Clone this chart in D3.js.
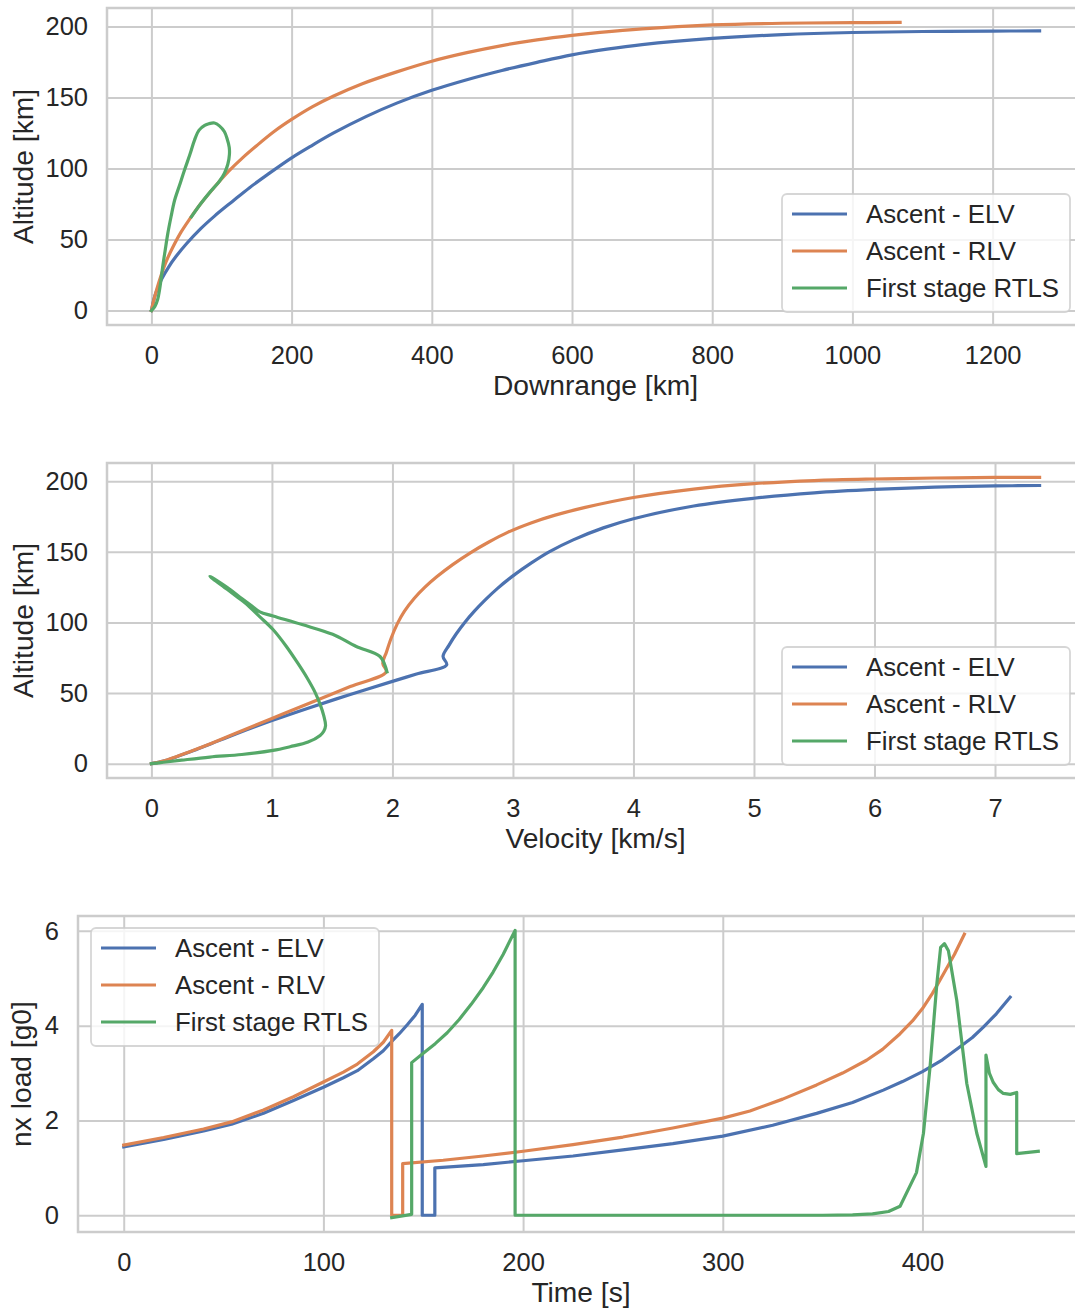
<!DOCTYPE html>
<html>
<head>
<meta charset="utf-8">
<script src="https://cdn.jsdelivr.net/npm/d3@7"></script>
<style>
  body { margin: 0; background: #fff; }
  svg { display: block; font-family: 'Liberation Sans', Arial, sans-serif; }
</style>
</head>
<body>
<script>
// Series names / colors
const seriesNames = ['Ascent - ELV', 'Ascent - RLV', 'First stage RTLS'];
const colors = ['#4C72B0', '#DD8452', '#55A868'];

// Panel 1: downrange [km] vs altitude [km]
const elvDownrange = [0, 5, 10, 15, 25, 35, 50, 70, 90, 116, 140, 165, 200, 230, 260, 306, 350, 400, 450, 500, 550, 600, 650, 700, 800, 900, 1000, 1100, 1200, 1267];
const elvAltitude = [0, 10.5, 17, 22.5, 31, 38, 47, 57.5, 66.5, 77, 86.5, 95.5, 107.5, 116.5, 125, 136.5, 146, 155, 162.5, 169, 174.7, 180, 184, 187.2, 191.5, 194.2, 195.7, 196.4, 196.7, 196.8];
const rlvDownrange = [0, 3, 8, 14, 21, 30, 42, 54, 70, 90, 110, 130, 150, 175, 200, 230, 260, 300, 350, 400, 450, 500, 550, 600, 640, 700, 800, 900, 1000, 1068];
const rlvAltitude = [0, 6.5, 15.5, 25, 34.5, 44, 55, 64, 75, 87, 98, 107.5, 116, 126, 134.5, 143.5, 151, 159.5, 168, 175.5, 181.5, 186.5, 190.5, 193.7, 195.8, 198.3, 201, 202.2, 202.6, 202.8];
const rtlsDownrange = [57, 70, 83, 97, 104, 109, 111.3, 111, 108, 104, 97, 90, 82, 76, 68, 61.5, 55, 47, 40, 33, 28, 23.3, 19.5, 16, 13.5, 11.4, 9, 5, 0];
const rtlsAltitude = [66, 75, 83, 91, 96.5, 103, 110, 115, 121, 126, 130, 132, 131.5, 130.3, 127, 120, 110, 98.6, 88, 77.5, 66, 54, 42, 30.5, 21, 14, 8, 3, 0];

// Panel 2: velocity [km/s] vs altitude [km]
const elvVelocity = [0, 0.1, 0.2, 0.35, 0.5, 0.7, 1.0, 1.3, 1.65, 2.0, 2.2, 2.45, 2.42, 2.47, 2.53, 2.6, 2.68, 2.77, 2.87, 3.0, 3.15, 3.3, 3.5, 3.75, 4.0, 4.5, 5.0, 5.5, 6.0, 6.5, 7.0, 7.37];
const elvAltitudeV = [0, 1.8, 4.6, 9.3, 14.3, 21, 30.5, 39.3, 49, 58.3, 63.5, 70, 76, 84, 92, 100, 108, 116, 124, 133, 142, 150, 158.5, 167, 173.5, 182.5, 188, 191.8, 194.2, 195.8, 196.7, 197];
const rlvVelocity = [0, 0.1, 0.2, 0.35, 0.5, 0.7, 1.0, 1.3, 1.65, 1.948, 1.92, 1.95, 1.99, 2.04, 2.1, 2.18, 2.27, 2.37, 2.5, 2.65, 2.8, 2.96, 3.15, 3.35, 3.6, 4.0, 4.5, 5.0, 5.5, 6.0, 6.5, 7.0, 7.37];
const rlvAltitudeV = [0, 1.8, 4.8, 9.5, 14.5, 21.5, 32, 42.4, 54.6, 65, 71, 79, 89, 99, 108, 117, 125, 132.5, 141, 149.5, 157, 164, 170.5, 176, 181.5, 188.5, 194.5, 198.3, 200.5, 201.6, 202.3, 202.7, 202.8];
const rtlsVelocity = [1.955, 1.897, 1.7, 1.504, 1.25, 1.009, 0.9, 0.834, 0.75, 0.65, 0.485, 0.631, 0.72, 0.776, 0.9, 1.009, 1.12, 1.212, 1.29, 1.358, 1.4, 1.43, 1.445, 1.43, 1.4, 1.3, 1.15, 1.009, 0.75, 0.485, 0.25, 0.1, 0];
const rtlsAltitudeV = [65, 75.9, 83, 91.6, 98.5, 104.6, 107.5, 111.7, 117, 123.5, 132.7, 123.3, 117.5, 113.9, 104, 95, 83, 71.5, 61, 50.5, 42, 34, 27, 23, 20, 15.3, 12, 9.4, 6.5, 4.7, 2.5, 1, 0];

// Panel 3: time [s] vs nx load [g0]
const elvTime = [0, 20, 40, 54, 70, 85, 100, 110, 117, 125, 130, 134.7, 138, 142, 146, 149.5, 149.5, 155.8, 155.8, 180, 200, 225, 250, 275, 300, 325, 347, 365, 380.4, 390, 400, 410, 419, 425, 430.5, 437, 443.9];
const elvLoad = [1.44, 1.6, 1.78, 1.92, 2.15, 2.42, 2.7, 2.9, 3.05, 3.3, 3.47, 3.69, 3.83, 4.02, 4.22, 4.45, 0, 0, 1.0, 1.07, 1.15, 1.25, 1.38, 1.51, 1.67, 1.9, 2.15, 2.38, 2.64, 2.82, 3.03, 3.28, 3.56, 3.75, 3.97, 4.25, 4.6];
const rlvTime = [0, 20, 40, 54, 70, 85, 100, 110, 117, 125, 130, 134.2, 134.2, 139.7, 139.7, 160, 180, 200, 225, 250, 275, 300, 313.6, 330, 347, 360, 372, 380, 388.8, 395, 400, 405, 410.5, 416, 421];
const rlvLoad = [1.48, 1.64, 1.82, 1.97, 2.22, 2.5, 2.81, 3.02, 3.19, 3.45, 3.65, 3.9, 0, 0, 1.09, 1.16, 1.25, 1.35, 1.49, 1.65, 1.84, 2.05, 2.2, 2.45, 2.75, 3.0, 3.27, 3.5, 3.83, 4.1, 4.36, 4.68, 5.09, 5.5, 5.93];
const rtlsTime = [134.2, 144.2, 144.2, 150, 156, 162, 168, 174, 180, 185, 190, 196, 196, 250, 300, 350, 365, 375, 383, 388.8, 397, 400.5, 403.8, 407.2, 409.1, 411, 413, 417.2, 422.2, 427.2, 431.8, 431.8, 433.5, 435.5, 438, 440.5, 444, 447.2, 447.2, 458];
const rtlsLoad = [-0.05, 0.02, 3.22, 3.42, 3.62, 3.85, 4.13, 4.45, 4.8, 5.13, 5.5, 6.01, 0, 0, 0, 0, 0.01, 0.03, 0.08, 0.19, 0.9, 1.73, 3.13, 4.88, 5.65, 5.73, 5.58, 4.53, 2.78, 1.73, 1.03, 3.38, 3.0, 2.8, 2.65, 2.57, 2.55, 2.59, 1.3, 1.35];

// Tick labels
const downrangeTicks = [0, 200, 400, 600, 800, 1000, 1200];
const altitudeTicks = [0, 50, 100, 150, 200];
const velocityTicks = [0, 1, 2, 3, 4, 5, 6, 7];
const timeTicks = [0, 100, 200, 300, 400];
const loadTicks = [0, 2, 4, 6];

// Layout
const width = 1075;
const height = 1308;
const textColor = '#262626';
const gridColor = '#cccccc';
const tickFont = 25.5;
const legendFont = 25.8;
const labelFont = 28.2;

const smooth = d3.curveCatmullRom.alpha(0.5);

const panels = [
    {
        box: { left: 107, top: 8, right: 1084, bottom: 325 },
        xLabel: 'Downrange [km]', yLabel: 'Altitude [km]',
        xTicks: downrangeTicks, yTicks: altitudeTicks,
        series: [[elvDownrange, elvAltitude], [rlvDownrange, rlvAltitude], [rtlsDownrange, rtlsAltitude]],
        curve: smooth,
        legend: 'lower right', xLabelY: 395, yLabelX: 33
    },
    {
        box: { left: 107, top: 463, right: 1084, bottom: 778 },
        xLabel: 'Velocity [km/s]', yLabel: 'Altitude [km]',
        xTicks: velocityTicks, yTicks: altitudeTicks,
        series: [[elvVelocity, elvAltitudeV], [rlvVelocity, rlvAltitudeV], [rtlsVelocity, rtlsAltitudeV]],
        curve: smooth,
        legend: 'lower right', xLabelY: 848, yLabelX: 33
    },
    {
        box: { left: 78, top: 916, right: 1084, bottom: 1232 },
        xLabel: 'Time [s]', yLabel: 'nx load [g0]',
        xTicks: timeTicks, yTicks: loadTicks,
        series: [[elvTime, elvLoad], [rlvTime, rlvLoad], [rtlsTime, rtlsLoad]],
        curve: d3.curveLinear,
        legend: 'upper left', xLabelY: 1302, yLabelX: 31
    }
];

const svg = d3.select('body').append('svg')
    .attr('width', width)
    .attr('height', height);

svg.append('rect')
    .attr('width', width)
    .attr('height', height)
    .attr('fill', '#fff');

// matplotlib-like 5% margins
function paddedDomain(values) {
    const [lo, hi] = d3.extent(values);
    const pad = (hi - lo) * 0.05;
    return [lo - pad, hi + pad];
}

function drawPanel(p) {
    const b = p.box;
    const g = svg.append('g');

    const x = d3.scaleLinear()
        .domain(paddedDomain(p.series.flatMap(s => s[0])))
        .range([b.left, b.right]);
    const y = d3.scaleLinear()
        .domain(paddedDomain(p.series.flatMap(s => s[1])))
        .range([b.bottom, b.top]);

    // x grid + tick labels
    const xAxis = g.append('g')
        .attr('transform', `translate(0, ${b.bottom})`)
        .call(d3.axisBottom(x)
            .tickValues(p.xTicks)
            .tickFormat(d3.format('d'))
            .tickSize(-(b.bottom - b.top))
            .tickPadding(21));

    // y grid + tick labels
    const yAxis = g.append('g')
        .attr('transform', `translate(${b.left}, 0)`)
        .call(d3.axisLeft(y)
            .tickValues(p.yTicks)
            .tickFormat(d3.format('d'))
            .tickSize(-(b.right - b.left))
            .tickPadding(19));

    [xAxis, yAxis].forEach(ax => {
        ax.select('.domain').remove();
        ax.selectAll('line')
            .attr('stroke', gridColor)
            .attr('stroke-width', 2);
        ax.selectAll('text')
            .attr('fill', textColor)
            .style('font-size', tickFont + 'px')
            .style('font-family', "'Liberation Sans', Arial, sans-serif");
    });

    // lines
    const line = d3.line()
        .curve(p.curve)
        .x(d => x(d[0]))
        .y(d => y(d[1]));

    p.series.forEach((s, i) => {
        g.append('path')
            .datum(d3.zip(s[0], s[1]))
            .attr('fill', 'none')
            .attr('stroke', colors[i])
            .attr('stroke-width', 3.2)
            .attr('stroke-linejoin', 'round')
            .attr('stroke-linecap', 'square')
            .attr('d', line);
    });

    // spines
    g.append('rect')
        .attr('x', b.left)
        .attr('y', b.top)
        .attr('width', b.right - b.left)
        .attr('height', b.bottom - b.top)
        .attr('fill', 'none')
        .attr('stroke', gridColor)
        .attr('stroke-width', 2.5);

    // axis labels
    g.append('text')
        .attr('x', (b.left + b.right) / 2)
        .attr('y', p.xLabelY)
        .attr('text-anchor', 'middle')
        .attr('fill', textColor)
        .style('font-size', labelFont + 'px')
        .text(p.xLabel);

    g.append('text')
        .attr('transform', `translate(${p.yLabelX}, ${(b.top + b.bottom) / 2}) rotate(-90)`)
        .attr('text-anchor', 'middle')
        .attr('fill', textColor)
        .style('font-size', labelFont + 'px')
        .text(p.yLabel);

    // legend
    const legW = 288;
    const legH = 118;
    const legX = p.legend === 'lower right' ? b.right - 14 - legW : b.left + 13;
    const legY = p.legend === 'lower right' ? b.bottom - 13 - legH : b.top + 12;

    const legend = g.append('g')
        .attr('transform', `translate(${legX}, ${legY})`);

    legend.append('rect')
        .attr('width', legW)
        .attr('height', legH)
        .attr('rx', 5)
        .attr('fill', 'rgba(255,255,255,0.8)')
        .attr('stroke', 'rgba(204,204,204,0.8)')
        .attr('stroke-width', 1.8);

    const rows = legend.selectAll('g.row')
        .data(seriesNames).enter()
        .append('g')
        .attr('class', 'row')
        .attr('transform', (d, i) => `translate(0, ${20 + i * 37})`);

    rows.append('line')
        .attr('x1', 10)
        .attr('x2', 65)
        .attr('stroke', (d, i) => colors[i])
        .attr('stroke-width', 3.2);

    rows.append('text')
        .attr('x', 84)
        .attr('y', 9)
        .attr('fill', textColor)
        .style('font-size', legendFont + 'px')
        .text(d => d);
}

panels.forEach(drawPanel);
</script>
</body>
</html>
